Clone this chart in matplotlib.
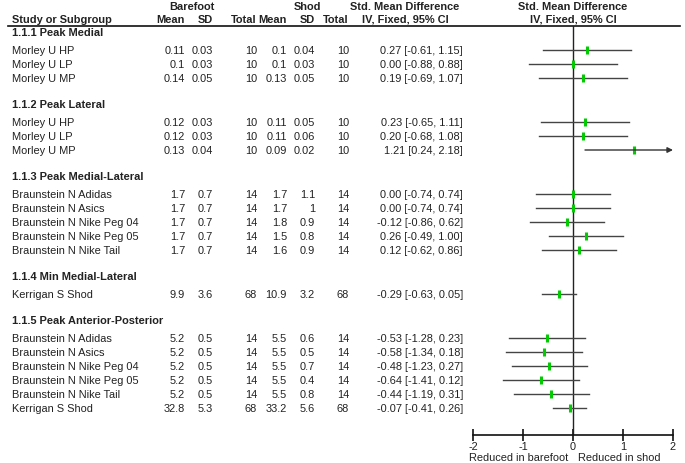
import matplotlib
matplotlib.use("Agg")
from matplotlib import pyplot as plt

plt.rcParams['font.family'] = ['Liberation Sans', 'DejaVu Sans']

groups = ["1.1.1 Peak Medial", "1.1.2 Peak Lateral", "1.1.3 Peak Medial-Lateral",
          "1.1.4 Min Medial-Lateral", "1.1.5 Peak Anterior-Posterior"]
group_sizes = [3, 3, 5, 1, 6]

studies = ["Morley U HP", "Morley U LP", "Morley U MP",
           "Morley U HP", "Morley U LP", "Morley U MP",
           "Braunstein N Adidas", "Braunstein N Asics", "Braunstein N Nike Peg 04",
           "Braunstein N Nike Peg 05", "Braunstein N Nike Tail",
           "Kerrigan S Shod",
           "Braunstein N Adidas", "Braunstein N Asics", "Braunstein N Nike Peg 04",
           "Braunstein N Nike Peg 05", "Braunstein N Nike Tail", "Kerrigan S Shod"]
bf_mean = [0.11, 0.1, 0.14, 0.12, 0.12, 0.13, 1.7, 1.7, 1.7, 1.7, 1.7, 9.9,
           5.2, 5.2, 5.2, 5.2, 5.2, 32.8]
bf_sd = [0.03, 0.03, 0.05, 0.03, 0.03, 0.04, 0.7, 0.7, 0.7, 0.7, 0.7, 3.6,
         0.5, 0.5, 0.5, 0.5, 0.5, 5.3]
bf_n = [10, 10, 10, 10, 10, 10, 14, 14, 14, 14, 14, 68, 14, 14, 14, 14, 14, 68]
sh_mean = [0.1, 0.1, 0.13, 0.11, 0.11, 0.09, 1.7, 1.7, 1.8, 1.5, 1.6, 10.9,
           5.5, 5.5, 5.5, 5.5, 5.5, 33.2]
sh_sd = [0.04, 0.03, 0.05, 0.05, 0.06, 0.02, 1.1, 1, 0.9, 0.8, 0.9, 3.2,
         0.6, 0.5, 0.7, 0.4, 0.8, 5.6]
sh_n = [10, 10, 10, 10, 10, 10, 14, 14, 14, 14, 14, 68, 14, 14, 14, 14, 14, 68]
smd = [0.27, 0.00, 0.19, 0.23, 0.20, 1.21, 0.00, 0.00, -0.12, 0.26, 0.12, -0.29,
       -0.53, -0.58, -0.48, -0.64, -0.44, -0.07]
ci_lo = [-0.61, -0.88, -0.69, -0.65, -0.68, 0.24, -0.74, -0.74, -0.86, -0.49, -0.62, -0.63,
         -1.28, -1.34, -1.23, -1.41, -1.19, -0.41]
ci_hi = [1.15, 0.88, 1.07, 1.11, 1.08, 2.18, 0.74, 0.74, 0.62, 1.00, 0.86, 0.05,
         0.23, 0.18, 0.27, 0.12, 0.31, 0.26]
ticks = [-2, -1, 0, 1, 2]

W, H = 685, 464
txt = '#222222'
fs = 7.9

fig = plt.figure(figsize=(W / 100, H / 100), dpi=100)
ax = fig.add_axes([0, 0, 1, 1])
ax.set_xlim(0, W)
ax.set_ylim(H, 0)
ax.axis('off')

# forest panel shares the pixel y system of the table
top, bottom = 27, 436
fx0, fx1 = 473, 673
fa = fig.add_axes([fx0 / W, (H - bottom) / H, (fx1 - fx0) / W, (bottom - top) / H])
fa.set_xlim(-2, 2)
fa.set_ylim(bottom, top)
fa.patch.set_alpha(0)
for s in ['top', 'right', 'left']:
    fa.spines[s].set_visible(False)
fa.spines['bottom'].set_color('#111111')
fa.spines['bottom'].set_linewidth(1.2)
fa.set_yticks([])
fa.set_xticks(ticks)
fa.set_xticklabels([f"{t:g}" for t in ticks], fontsize=fs, color=txt)
fa.tick_params(axis='x', direction='inout', length=8, width=1.2, pad=0, color='#111111')
fa.axvline(0, color='#222222', lw=1)

# header
bold = dict(fontsize=fs, color=txt, fontweight='bold', va='center')
ax.text(192, 7, "Barefoot", ha='center', **bold)
ax.text(307, 7, "Shod", ha='center', **bold)
ax.text(405, 7, "Std. Mean Difference", ha='center', **bold)
ax.text(573, 7, "Std. Mean Difference", ha='center', **bold)
ax.text(12, 20, "Study or Subgroup", ha='left', **bold)
col_x = [185, 213, 257, 287, 315, 349]
for x, lab in zip(col_x, ["Mean", "SD", "Total", "Mean", "SD", "Total"]):
    ax.text(x, 20, lab, ha='right', **bold)
ax.text(405, 20, "IV, Fixed, 95% CI", ha='center', **bold)
ax.text(573, 20, "IV, Fixed, 95% CI", ha='center', **bold)
ax.plot([8, 680], [top, top], color='#111111', lw=1.2)

norm = dict(fontsize=fs, color=txt, va='center')
y = 33
i = 0
for g, n in zip(groups, group_sizes):
    ax.text(12, y, g, ha='left', **bold)
    y += 18
    for _ in range(n):
        ax.text(12, y, studies[i], ha='left', **norm)
        vals = [bf_mean[i], bf_sd[i], bf_n[i], sh_mean[i], sh_sd[i], sh_n[i]]
        for x, v in zip(col_x, vals):
            ax.text(x, y, f"{v:g}", ha='right', **norm)
        ax.text(463, y, f"{smd[i]:.2f} [{ci_lo[i]:.2f}, {ci_hi[i]:.2f}]", ha='right', **norm)
        if ci_hi[i] > 2:
            fa.annotate('', xy=(2, y), xytext=(ci_lo[i], y),
                        arrowprops=dict(arrowstyle='-|>', color='#333333', lw=1,
                                        mutation_scale=8, shrinkA=0, shrinkB=0))
        else:
            fa.plot([ci_lo[i], ci_hi[i]], [y, y], color='#444444', lw=1)
        fa.plot(smd[i], y, marker='|', color='#00cc00', markersize=5.5, mew=2.2)
        y += 14
        i += 1
    y += 12

ax.text(568, 458, "Reduced in barefoot", ha='right', **norm)
ax.text(578, 458, "Reduced in shod", ha='left', **norm)

fig.savefig("out.png", dpi=100)
